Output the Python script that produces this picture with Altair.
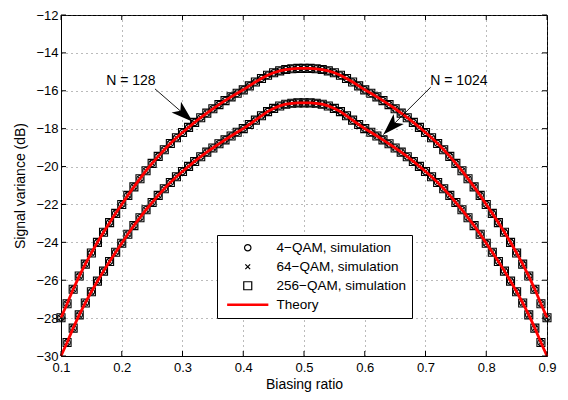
import altair as alt
import pandas as pd

# ---------------- data ----------------
ratio = [round(0.10 + 0.01 * i, 2) for i in range(81)]

theory_n128 = [
    -27.98, -27.24, -26.48, -25.78, -25.15, -24.56, -24.00, -23.47, -22.96, -22.47,
    -22.00, -21.52, -21.07, -20.64, -20.22, -19.83, -19.46, -19.11, -18.78, -18.48,
    -18.20, -17.93, -17.67, -17.42, -17.18, -16.95, -16.73, -16.52, -16.32, -16.13,
    -15.95, -15.74, -15.54, -15.35, -15.18, -15.05, -14.95, -14.88, -14.84, -14.82,
    -14.82,
    -14.82, -14.84, -14.88, -14.95, -15.05, -15.18, -15.35, -15.54, -15.74, -15.95,
    -16.13, -16.32, -16.52, -16.73, -16.95, -17.18, -17.42, -17.67, -17.93, -18.20,
    -18.48, -18.78, -19.11, -19.46, -19.83, -20.22, -20.64, -21.07, -21.52, -22.00,
    -22.47, -22.96, -23.47, -24.00, -24.56, -25.15, -25.78, -26.48, -27.24, -27.98,
]

theory_n1024 = [
    -30.00, -29.29, -28.53, -27.83, -27.20, -26.61, -26.05, -25.52, -25.01, -24.52,
    -24.05, -23.57, -23.12, -22.70, -22.28, -21.90, -21.52, -21.17, -20.84, -20.54,
    -20.26, -19.99, -19.73, -19.48, -19.24, -19.02, -18.80, -18.59, -18.39, -18.19,
    -18.00, -17.78, -17.55, -17.32, -17.10, -16.93, -16.80, -16.71, -16.66, -16.64,
    -16.64,
    -16.64, -16.66, -16.71, -16.80, -16.93, -17.10, -17.32, -17.55, -17.78, -18.00,
    -18.19, -18.39, -18.59, -18.80, -19.02, -19.24, -19.48, -19.73, -19.99, -20.26,
    -20.54, -20.84, -21.17, -21.52, -21.90, -22.28, -22.70, -23.12, -23.57, -24.05,
    -24.52, -25.01, -25.52, -26.05, -26.61, -27.20, -27.83, -28.53, -29.29, -30.00,
]

# simulated points sit on the theory curves (end points of N=1024 fall just below the axis)
sim_n128 = list(theory_n128)
sim_n1024 = [-30.05] + theory_n1024[1:-1] + [-30.05]

series_names = ["4\u2212QAM, simulation", "64\u2212QAM, simulation",
                "256\u2212QAM, simulation", "Theory"]
curve_names = ["N = 128", "N = 1024"]

x_ticks = [0.1, 0.2, 0.3, 0.4, 0.5, 0.6, 0.7, 0.8, 0.9]
y_ticks = [-30, -28, -26, -24, -22, -20, -18, -16, -14, -12]

ann_text = ["N = 128", "N = 1024"]
ann_text_x = [0.215, 0.755]
ann_text_y = [-15.47, -15.47]
arrow_x0 = [0.2547, 0.7086]
arrow_y0 = [-15.90, -15.81]
arrow_x1 = [0.3168, 0.6306]
arrow_y1 = [-17.63, -18.31]
arrow_angle = [41.5, 134.5]

# ---------------- tables ----------------
sim_rows = []
for s in series_names[:3]:
    for cname, vals in zip(curve_names, [sim_n128, sim_n1024]):
        for x, v in zip(ratio, vals):
            sim_rows.append({"ratio": x, "value": v, "series": s, "curve": cname})
sim_df = pd.DataFrame(sim_rows)

th_rows = []
for cname, vals in zip(curve_names, [theory_n128, theory_n1024]):
    for x, v in zip(ratio, vals):
        th_rows.append({"ratio": x, "value": v, "curve": cname})
th_df = pd.DataFrame(th_rows)

ann_df = pd.DataFrame({"label": ann_text, "tx": ann_text_x, "ty": ann_text_y,
                       "x0": arrow_x0, "y0": arrow_y0, "x1": arrow_x1, "y1": arrow_y1,
                       "ang": arrow_angle})
xt_df = pd.DataFrame({"t": x_ticks})
yt_df = pd.DataFrame({"t": y_ticks})

W, H = 486, 341
FONT = "Liberation Sans"

xscale = alt.Scale(domain=[0.1, 0.9], nice=False, zero=False)
yscale = alt.Scale(domain=[-30, -12], nice=False, zero=False)

xaxis = alt.Axis(values=x_ticks, format=".1f", title="Biasing ratio",
                 grid=True, ticks=False, labelPadding=5, titlePadding=3,
                 labelFontSize=13, titleFontSize=14, labelFlush=False,
                 labelOverlap=False)
yaxis = alt.Axis(values=y_ticks, format="d", title="Signal variance (dB)",
                 grid=True, ticks=False, labelPadding=3, titlePadding=8,
                 labelFontSize=13, titleFontSize=14, labelFlush=False,
                 labelOverlap=False)


def xq(field):
    return alt.X(field, scale=xscale, axis=xaxis, title="Biasing ratio")


def yq(field):
    return alt.Y(field, scale=yscale, axis=yaxis, title="Signal variance (dB)")


circle_path = "M0.8,0A0.8,0.8,0,1,1,-0.8,0A0.8,0.8,0,1,1,0.8,0Z"
cross_path = "M-0.6,-0.6L0.6,0.6M-0.6,0.6L0.6,-0.6"
line_path = "M-5,-0.15H5V0.15H-5Z"

leg = alt.Legend(title=None, orient="none", legendX=156, legendY=220,
                 padding=6, strokeColor="black", fillColor="white", cornerRadius=0,
                 labelFont=FONT, labelFontSize=13.5, labelColor="black",
                 symbolSize=64, symbolStrokeWidth=1.2, labelOffset=22,
                 symbolOffset=18, rowPadding=4, labelLimit=400)

points = alt.Chart(sim_df).transform_filter("datum.value >= -30").mark_point(
    filled=False, size=64, strokeWidth=1.1, opacity=1
).encode(
    x=xq("ratio:Q"), y=yq("value:Q"),
    shape=alt.Shape("series:N", scale=alt.Scale(domain=series_names,
                    range=[circle_path, cross_path, "square", line_path]), legend=leg),
    color=alt.Color("series:N", scale=alt.Scale(domain=series_names,
                    range=["black", "black", "black", "#ff0000"]), legend=leg),
    detail="curve:N",
)

lines = alt.Chart(th_df).mark_line(color="#ff0000", strokeWidth=2.8).encode(
    x=xq("ratio:Q"), y=yq("value:Q"), detail="curve:N",
)

# inward tick marks on all four sides
tick_b = alt.Chart(xt_df).mark_rule(color="black", strokeWidth=1).encode(
    x=xq("t:Q"), y=alt.value(H), y2=alt.value(H - 5))
tick_t = alt.Chart(xt_df).mark_rule(color="black", strokeWidth=1).encode(
    x=xq("t:Q"), y=alt.value(0), y2=alt.value(5))
tick_l = alt.Chart(yt_df).mark_rule(color="black", strokeWidth=1).encode(
    y=yq("t:Q"), x=alt.value(0), x2=alt.value(5))
tick_r = alt.Chart(yt_df).mark_rule(color="black", strokeWidth=1).encode(
    y=yq("t:Q"), x=alt.value(W), x2=alt.value(W - 5))

ann_base = alt.Chart(ann_df)
ann_text_layer = ann_base.mark_text(font=FONT, fontSize=14, color="black").encode(
    x=xq("tx:Q"), y=yq("ty:Q"), text="label:N")
ann_lines = ann_base.mark_rule(color="black", strokeWidth=0.9).encode(
    x=xq("x0:Q"), y=yq("y0:Q"), x2="x1:Q", y2="y1:Q")
ann_heads = ann_base.mark_point(
    shape="M0,0L-2,-0.65L-1.5,0L-2,0.65Z", size=480, filled=True, color="black", opacity=1
).encode(x=xq("x1:Q"), y=yq("y1:Q"), angle=alt.Angle("ang:Q", scale=None))

chart = alt.layer(
    points, lines, tick_b, tick_t, tick_l, tick_r, ann_lines, ann_heads, ann_text_layer
).properties(
    width=W, height=H,
    autosize=alt.AutoSizeParams(type="none"),
    padding={"left": 53, "top": 7, "right": 13, "bottom": 36},
    background="white",
).configure_view(
    stroke="black", strokeWidth=1
).configure_axis(
    labelFont=FONT, titleFont=FONT, labelColor="black", titleColor="black",
    titleFontWeight="normal", domainColor="black", domainWidth=1,
    gridColor="#555555", gridDash=[1, 4], gridWidth=1, gridOpacity=0.8,
    labelOverlap=False,
)

chart.save("out.html", embed_options={"renderer": "svg", "actions": False})
